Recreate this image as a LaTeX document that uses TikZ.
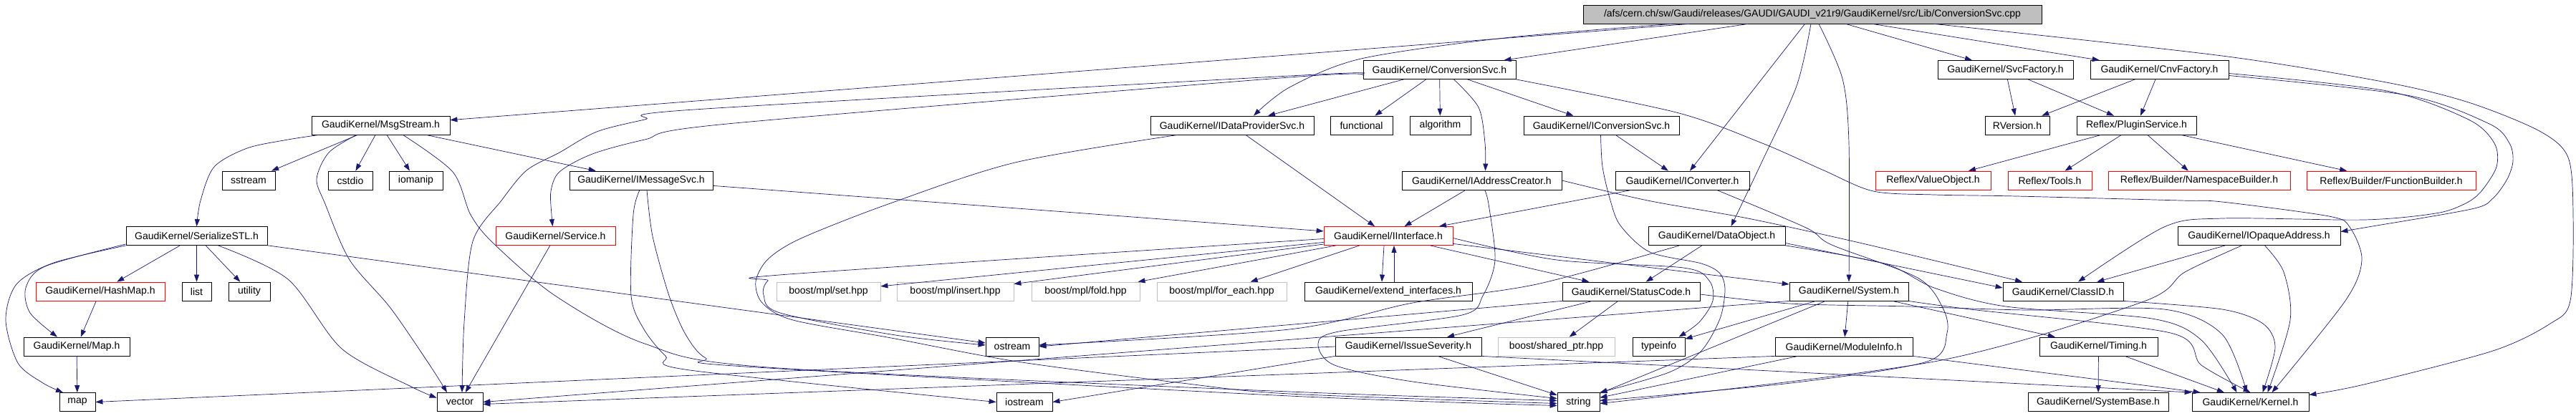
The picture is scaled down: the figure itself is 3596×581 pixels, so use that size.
\documentclass[tikz,border=0pt]{standalone}
\usepackage{fontspec}
\newfontfamily\dotfont{Liberation Sans}
\usetikzlibrary{arrows.meta}
\definecolor{edgeblue}{HTML}{191970}
\definecolor{boxgray}{HTML}{BFBFBF}
\tikzset{
  hdr/.style={draw=black, line width=0.8pt, minimum height=26pt, inner sep=0pt,
    font=\dotfont\fontsize{14}{16}\selectfont},
  redhdr/.style={hdr, draw=red},
  extern/.style={hdr, draw=boxgray},
  srcfile/.style={hdr, fill=boxgray},
  dep/.style={draw=edgeblue, line width=0.7pt, -{Triangle[length=10pt,width=7pt]}}
}

\begin{document}
\begin{tikzpicture}[x=1pt,y=-1pt]
    \useasboundingbox (0,0) rectangle (3596,581);

    % the source file and its headers, row by row
    \node[srcfile, minimum width=640pt] (top) at (2530,20) {/afs/cern.ch/sw/Gaudi/releases/GAUDI/GAUDI\_v21r9/GaudiKernel/src/Lib/ConversionSvc.cpp};

    \node[hdr, minimum width=213pt] (conv) at (2009.5,97.5) {GaudiKernel/ConversionSvc.h};
    \node[hdr, minimum width=189pt] (svcfac) at (2799.5,97.5) {GaudiKernel/SvcFactory.h};
    \node[hdr, minimum width=193pt] (cnvfac) at (3014.5,97.5) {GaudiKernel/CnvFactory.h};

    \node[hdr, minimum width=193pt] (msgstream) at (531.5,175) {GaudiKernel/MsgStream.h};
    \node[hdr, minimum width=228pt] (idataprov) at (1720,175) {GaudiKernel/IDataProviderSvc.h};
    \node[hdr, minimum width=87pt] (functional) at (1900.5,175) {functional};
    \node[hdr, minimum width=85pt] (algorithm) at (2010.5,175) {algorithm};
    \node[hdr, minimum width=217pt] (iconvsvc) at (2235.5,175) {GaudiKernel/IConversionSvc.h};
    \node[hdr, minimum width=90pt] (rversion) at (2816,175) {RVersion.h};
    \node[hdr, minimum width=167pt] (plugin) at (2982.5,175) {Reflex/PluginService.h};

    \node[hdr, minimum width=74pt] (sstream) at (347,252) {sstream};
    \node[hdr, minimum width=62pt] (cstdio) at (489,252) {cstdio};
    \node[hdr, minimum width=75pt] (iomanip) at (580.5,252) {iomanip};
    \node[hdr, minimum width=200pt] (imsgsvc) at (895,252) {GaudiKernel/IMessageSvc.h};
    \node[hdr, minimum width=223pt] (iaddr) at (2068.5,252) {GaudiKernel/IAddressCreator.h};
    \node[hdr, minimum width=187pt] (iconverter) at (2348.5,252) {GaudiKernel/IConverter.h};
    \node[redhdr, minimum width=161pt] (valueobj) at (2698.5,252) {Reflex/ValueObject.h};
    \node[redhdr, minimum width=117pt] (tools) at (2861.5,252) {Reflex/Tools.h};
    \node[redhdr, minimum width=254pt] (nsbuilder) at (3070,252) {Reflex/Builder/NamespaceBuilder.h};
    \node[redhdr, minimum width=236pt] (fnbuilder) at (3338,252) {Reflex/Builder/FunctionBuilder.h};

    \node[hdr, minimum width=197pt] (serialize) at (274.5,329.5) {GaudiKernel/SerializeSTL.h};
    \node[redhdr, minimum width=167pt] (service) at (775.5,329.5) {GaudiKernel/Service.h};
    \node[redhdr, minimum width=180pt] (iinterface) at (1938,329.5) {GaudiKernel/IInterface.h};
    \node[hdr, minimum width=191pt] (dataobj) at (2396.5,329.5) {GaudiKernel/DataObject.h};
    \node[hdr, minimum width=227pt] (iopaque) at (3153.5,329.5) {GaudiKernel/IOpaqueAddress.h};

    \node[redhdr, minimum width=180pt] (hashmap) at (140,407) {GaudiKernel/HashMap.h};
    \node[hdr, minimum width=41pt] (list) at (274.5,407) {list};
    \node[hdr, minimum width=58pt] (utility) at (348,407) {utility};
    \node[extern, minimum width=145pt] (mplset) at (1156.5,407) {boost/mpl/set.hpp};
    \node[extern, minimum width=163pt] (mplinsert) at (1333.5,407) {boost/mpl/insert.hpp};
    \node[extern, minimum width=151pt] (mplfold) at (1515.5,407) {boost/mpl/fold.hpp};
    \node[extern, minimum width=181pt] (mplforeach) at (1705.5,407) {boost/mpl/for\_each.hpp};
    \node[hdr, minimum width=234pt] (extend) at (1938,407) {GaudiKernel/extend\_interfaces.h};
    \node[hdr, minimum width=192pt] (statuscode) at (2277,407) {GaudiKernel/StatusCode.h};
    \node[hdr, minimum width=166pt] (system) at (2581,407) {GaudiKernel/System.h};
    \node[hdr, minimum width=168pt] (classid) at (2880,407) {GaudiKernel/ClassID.h};

    \node[hdr, minimum width=148pt] (mapgk) at (107,484) {GaudiKernel/Map.h};
    \node[hdr, minimum width=74pt] (ostream) at (1413,484) {ostream};
    \node[hdr, minimum width=204pt] (issue) at (1966,484) {GaudiKernel/IssueSeverity.h};
    \node[extern, minimum width=163pt] (sharedptr) at (2172.5,484) {boost/shared\_ptr.hpp};
    \node[hdr, minimum width=73pt] (typeinfo) at (2315.5,484) {typeinfo};
    \node[hdr, minimum width=192pt] (moduleinfo) at (2574,484) {GaudiKernel/ModuleInfo.h};
    \node[hdr, minimum width=165pt] (timing) at (2929.5,484) {GaudiKernel/Timing.h};

    \node[hdr, minimum width=50pt] (map) at (108,561.5) {map};
    \node[hdr, minimum width=64pt] (vector) at (642,561.5) {vector};
    \node[hdr, minimum width=78pt] (iostream) at (1430,561.5) {iostream};
    \node[hdr, minimum width=59pt] (string) at (2203.5,561.5) {string};
    \node[hdr, minimum width=196pt] (sysbase) at (2929,561.5) {GaudiKernel/SystemBase.h};
    \node[hdr, minimum width=163pt] (kernel) at (3141.5,561.5) {GaudiKernel/Kernel.h};

    % includes of the source file
    \draw[dep] (top) -- (msgstream);
    \draw[dep] plot[smooth] coordinates {([xshift=124pt]top.south west) (2100,53) (1900,82) (1800,122) ([xshift=30pt]idataprov.north)};
    \draw[dep] (top) -- (conv);
    \draw[dep] (top) -- (iconverter);
    \draw[dep] plot[smooth] coordinates {([xshift=-2pt]top.south) (2508,120) (2460,225) ([xshift=20pt]dataobj.north)};
    \draw[dep] plot[smooth] coordinates {([xshift=9pt]top.south) (2572,110) (2581,200) (system.north)};
    \draw[dep] (top) -- (svcfac);
    \draw[dep] (top) -- (cnvfac);
    \draw[dep] plot[smooth] coordinates {([xshift=170pt]top.south) (3102,78) (3331,115) (3446,143) (3545,183) (3585,220) (3592,300) (3588,420) (3560,452) (3480,490) (3300,537) ([yshift=10pt]kernel.east)};

    % ConversionSvc.h
    \draw[dep] (conv) -- (idataprov);
    \draw[dep] plot[smooth] coordinates {([yshift=-5pt]conv.west) (1800,106) (969,153) (900,167) (833,184) (781,213) (735,238) (700,280) (660,337) (648,450) ([xshift=3pt]vector.north)};
    \draw[dep] plot[smooth] coordinates {([yshift=-8pt]conv.west) (1800,108) (1015,173) (900,195) (827,215) (781,240) (769,267) (770,300) ([xshift=-4pt]service.north)};
    \draw[dep] (conv) -- (functional);
    \draw[dep] (conv) -- (algorithm);
    \draw[dep] plot[smooth] coordinates {([xshift=20pt]conv.south) (2064,150) (2073,200) ([xshift=5pt]iaddr.north)};
    \draw[dep] (conv) -- (iconvsvc);
    \draw[dep] plot[smooth] coordinates {(conv.south east) (2340,157) (2460,200) (2546,238) (2615,267) (2700,272) (2815,274) (3044,280) (3102,282) (3251,302) (3280,317) (3297,363) (3274,420) ([xshift=30pt]kernel.north)};

    % factories
    \draw[dep] (svcfac) -- (rversion);
    \draw[dep] (svcfac) -- (plugin);
    \draw[dep] (cnvfac) -- (rversion);
    \draw[dep] (cnvfac) -- (plugin);
    \draw[dep] plot[smooth] coordinates {([yshift=-5pt]cnvfac.east) (3332,127) (3446,167) (3482,200) (3485,233) (3463,268) (3440,285) (3400,298) (3300,307) (3102,305) (3021,317) ([xshift=21pt]classid.north)};
    \draw[dep] plot[smooth] coordinates {([yshift=-8pt]cnvfac.east) (3360,133) (3475,173) (3503,200) (3508,225) (3500,250) (3480,277) (3450,292) (3300,318) ([yshift=6pt]iopaque.east)};
    \draw[dep] (plugin) -- (valueobj);
    \draw[dep] (plugin) -- (tools);
    \draw[dep] (plugin) -- (nsbuilder);
    \draw[dep] (plugin) -- (fnbuilder);

    % MsgStream.h
    \draw[dep] plot[smooth] coordinates {([xshift=-86pt]msgstream.south) (402,195) (345,207) (299,233) (280,280) (serialize.north)};
    \draw[dep] (msgstream) -- (sstream);
    \draw[dep] plot[smooth] coordinates {([xshift=-34pt]msgstream.south) (459,213) (442,250) (454,285) (488,363) (545,430) (600,510) ([xshift=-18pt]vector.north)};
    \draw[dep] (msgstream) -- (cstdio);
    \draw[dep] (msgstream) -- (iomanip);
    \draw[dep] plot[smooth] coordinates {([xshift=31pt]msgstream.south) (632,240) (657,300) (689,340) (775,413) (900,480) (1072,513) (1800,547) ([yshift=2pt]string.west)};
    \draw[dep] (msgstream) -- (imsgsvc);

    % interfaces
    \draw[dep] (idataprov) -- (iinterface);
    \draw[dep] plot[smooth] coordinates {([xshift=-76pt]idataprov.south) (1417,227) (1240,285) (1118,333) (1072,362) (1055,393) (1064,423) (1107,447) (1244,472) (1420,505) (1650,535) (1800,550) ([yshift=-2pt]string.west)};
    \draw[dep] (iconvsvc) -- (iconverter);
    \draw[dep] plot[smooth] coordinates {([xshift=-1pt]iconvsvc.south) (2237,233) (2248,280) (2262,315) (2303,352) (2375,368) (2401,382) (2408,405) (2401,445) (2375,490) (2330,520) (string.north east)};
    \draw[dep] (imsgsvc) -- (iinterface);
    \draw[dep] plot[smooth] coordinates {([xshift=-2pt]imsgsvc.south) (884,300) (881,413) (899,460) (929,497) (963,517) (iostream.west)};
    \draw[dep] plot[smooth] coordinates {([xshift=8pt]imsgsvc.south) (911,330) (934,413) (957,467) (985,500) (1040,512) (1800,553) ([yshift=-5pt]string.west)};
    \draw[dep] (iaddr) -- (iinterface);
    \draw[dep] plot[smooth] coordinates {(iaddr.east) (2300,280) (2440,305) (2600,340) ([xshift=-57pt]classid.north)};
    \draw[dep] plot[smooth] coordinates {([xshift=4pt]iaddr.south) (2078,285) (2087,363) (2070,413) (2041,440) (1869,463) (1840,480) (1863,510) (1972,533) ([yshift=5pt]string.west)};
    \draw[dep] (iconverter) -- (iinterface);
    \draw[dep] plot[smooth] coordinates {([xshift=48pt]iconverter.south) (2521,318) (2557,342) (2677,388) (2712,430) (2718,465) (2690,505) (2500,535) ([yshift=2pt]string.east)};

    % DataObject.h
    \draw[dep] (dataobj) -- (statuscode);
    \draw[dep] ([yshift=-10pt]dataobj.east) -- ([yshift=5pt]classid.west);
    \draw[dep] plot[smooth] coordinates {(dataobj.south east) (2630,368) (2700,402) (2800,428) (3004,445) (3073,475) ([xshift=-19pt]kernel.north)};
    \draw[dep] plot[smooth] coordinates {([xshift=-52pt]dataobj.south) (2145,397) (1972,423) (1800,460) ([yshift=2pt]ostream.east)};

    % IInterface.h
    \draw[dep] (iinterface) -- (mplset);
    \draw[dep] (iinterface) -- (mplinsert);
    \draw[dep] (iinterface) -- (mplfold);
    \draw[dep] (iinterface) -- (mplforeach);
    \draw[dep] plot[smooth] coordinates {([yshift=-4pt]iinterface.west) (1101,383) (1072,392) (1066,412) (1089,437) (1250,468) ([yshift=2pt]ostream.west)};
    \draw[dep] ([xshift=-6pt]iinterface.south) -- ([xshift=-9pt]extend.north);
    \draw[dep] ([xshift=8pt]extend.north) -- ([xshift=8pt]iinterface.south);
    \draw[dep] (iinterface) -- (statuscode);
    \draw[dep] (iinterface) -- (system);
    \draw[dep] plot[smooth] coordinates {([yshift=-3pt]iinterface.east) (2173,363) (2350,374) (2386,392) (2391,420) (2372,450) ([xshift=28pt]typeinfo.north)};

    % StatusCode.h and System.h
    \draw[dep] (statuscode) -- (issue);
    \draw[dep] (statuscode) -- (sharedptr);
    \draw[dep] (statuscode.south west) -- (ostream.east);
    \draw[dep] plot[smooth] coordinates {([yshift=-4pt]statuscode.east) (2498,424) (2664,428) (2830,433) (3021,432) (3102,467) ([xshift=-5pt]kernel.north)};
    \draw[dep] (system) -- (moduleinfo);
    \draw[dep] (system) -- (typeinfo);
    \draw[dep] (system) -- (string);
    \draw[dep] (system) -- (timing);
    \draw[dep] plot[smooth] coordinates {(system.south east) (2750,432) (3030,465) (3073,510) (kernel.north)};
    \draw[dep] (system.south west) -- (vector.east);

    % lower headers
    \draw[dep] (moduleinfo.south west) -- ([yshift=-3pt]vector.east);
    \draw[dep] (moduleinfo) -- (string);
    \draw[dep] (moduleinfo.south east) -- ([xshift=12pt]kernel.north west);
    \draw[dep] (issue.west) -- (map.east);
    \draw[dep] (issue.south west) -- (iostream.east);
    \draw[dep] (issue) -- (string);
    \draw[dep] (issue.south east) -- (kernel.north west);

    % SerializeSTL.h
    \draw[dep] plot[smooth] coordinates {(serialize.south west) (75,367) (23,397) (8,447) (25,507) (60,535) ([xshift=-20pt]map.north)};
    \draw[dep] plot[smooth] coordinates {([yshift=2pt]serialize.south west) (63,372) (36,402) (42,437) ([xshift=-27pt]mapgk.north)};
    \draw[dep] (serialize) -- (hashmap);
    \draw[dep] (serialize) -- (list);
    \draw[dep] (serialize) -- (utility);
    \draw[dep] plot[smooth] coordinates {([xshift=30pt]serialize.south) (402,390) (477,487) (574,540) ([yshift=6pt]vector.west)};
    \draw[dep] (serialize) -- (ostream);
    \draw[dep] (hashmap) -- (mapgk);
    \draw[dep] (mapgk) -- (map);
    \draw[dep] (service) -- (vector);

    % IOpaqueAddress.h, ClassID.h, Timing.h
    \draw[dep] (iopaque) -- (classid);
    \draw[dep] plot[smooth] coordinates {([xshift=-24pt]iopaque.south) (3050,380) (2990,422) (2700,505) ([yshift=-2pt]string.east)};
    \draw[dep] plot[smooth] coordinates {([xshift=8pt]iopaque.south) (3188,380) (3197,447) ([xshift=24pt]kernel.north)};
    \draw[dep] plot[smooth] coordinates {(classid.south east) (3102,432) (3159,452) (3176,485) ([xshift=17pt]kernel.north)};
    \draw[dep] (timing) -- (sysbase);
    \draw[dep] (timing) -- (kernel);
\end{tikzpicture}
\end{document}
